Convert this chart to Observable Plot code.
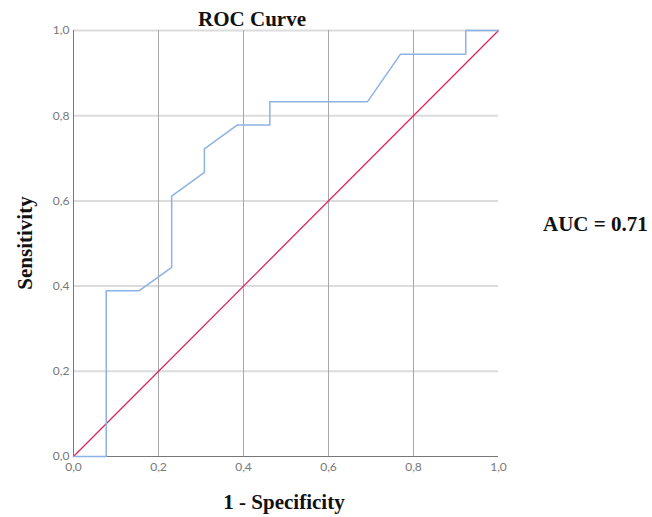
<!DOCTYPE html>
<html>
<head>
<meta charset="utf-8">
<script src="https://cdn.jsdelivr.net/npm/d3@7"></script>
<script src="https://cdn.jsdelivr.net/npm/@observablehq/plot@0.6"></script>
<style>
  html, body { margin: 0; padding: 0; background: #fff; }
  #chart { position: relative; width: 652px; height: 517px; }
  .title { position: absolute; font-family: "Liberation Serif", serif; font-weight: bold; color: #111; line-height: normal; }
</style>
</head>
<body>
<div id="chart"></div>
<script>
// ROC curve points
const fpr = [0, 0.077, 0.077, 0.154, 0.231, 0.231, 0.308, 0.308, 0.385, 0.462, 0.462, 0.692, 0.769, 0.923, 0.923, 1];
const tpr = [0, 0, 0.389, 0.389, 0.444, 0.611, 0.667, 0.722, 0.778, 0.778, 0.833, 0.833, 0.944, 0.944, 1, 1];
const refX = [0, 1];
const refY = [0, 1];
const tickValues = [0, 0.2, 0.4, 0.6, 0.8, 1.0];
const chartTitle = "ROC Curve";
const xLabel = "1 - Specificity";
const yLabel = "Sensitivity";
const aucText = "AUC = 0.71";

const roc = fpr.map((x, i) => ({x, y: tpr[i]}));
const ref = refX.map((x, i) => ({x, y: refY[i]}));
const fmt = d => d3.format(".1f")(d).replace(".", ",");

const plot = Plot.plot({
  width: 652,
  height: 517,
  marginLeft: 73,
  marginRight: 154,
  marginTop: 30,
  marginBottom: 61,
  style: {fontFamily: "Lato, 'DejaVu Sans', sans-serif", fontSize: "12px", color: "#777", background: "#fff"},
  x: {domain: [0, 1], label: null},
  y: {domain: [0, 1], label: null},
  marks: [
    Plot.ruleY(tickValues.filter(d => d > 0), {stroke: "#dcdcdc", strokeWidth: 2}),
    Plot.ruleX(tickValues.filter(d => d > 0 && d < 1), {stroke: "#a8a8a8", strokeWidth: 1}),
    Plot.ruleX([0], {stroke: "#777", strokeWidth: 1}),
    Plot.ruleY([0], {stroke: "#777", strokeWidth: 1}),
    Plot.line(ref, {x: "x", y: "y", stroke: "#e0245e", strokeWidth: 1.3}),
    Plot.line(roc, {x: "x", y: "y", stroke: "#8db2e6", strokeWidth: 1.5}),
    Plot.axisX({ticks: tickValues, tickFormat: fmt, tickSize: 0, tickPadding: 6, label: null, fill: "#777"}),
    Plot.axisY({ticks: tickValues, tickFormat: fmt, tickSize: 0, tickPadding: 4, label: null, fill: "#777"})
  ]
});
const chart = document.getElementById("chart");
chart.appendChild(plot);

function addText(txt, style) {
  const d = document.createElement("div");
  d.className = "title";
  d.textContent = txt;
  Object.assign(d.style, style);
  chart.appendChild(d);
}
addText(chartTitle, {left: "152px", width: "200px", textAlign: "center", top: "7px", fontSize: "21px"});
addText(xLabel, {left: "84px", width: "400px", textAlign: "center", top: "490px", fontSize: "21px"});
addText(aucText, {left: "543px", top: "212px", fontSize: "21px", whiteSpace: "nowrap"});
addText(yLabel, {left: "25px", top: "243px", fontSize: "21px", transform: "translate(-50%, -50%) rotate(-90deg)", whiteSpace: "nowrap"});
</script>
</body>
</html>
